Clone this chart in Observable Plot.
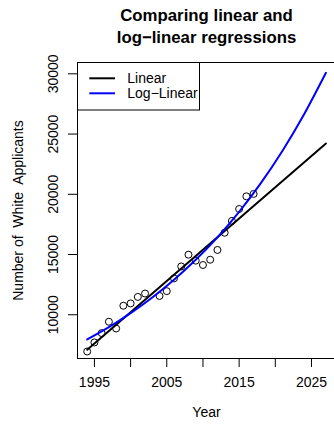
<!DOCTYPE html>
<html><head><meta charset="utf-8">
<script src="https://cdn.jsdelivr.net/npm/d3@7"></script>
<script src="https://cdn.jsdelivr.net/npm/@observablehq/plot@0.6"></script>
<style>
html,body{margin:0;padding:0;background:#fff;overflow:hidden;}
#chart{width:334px;height:428px;overflow:hidden;position:relative;}
#chart svg{max-width:none;display:block;}
</style></head><body><div id="chart"></div>
<script>
// Observed data
const years = [1994,1995,1996,1997,1998,1999,2000,2001,2002,2004,2005,2006,2007,2008,2009,2010,2011,2012,2013,2014,2015,2016,2017];
const applicants = [6950,7700,8480,9420,8860,10750,10940,11480,11760,11560,11960,13020,14010,14990,14490,14130,14570,15380,16810,17790,18780,19830,20030];
// Fitted lines
const linearYears = [1994, 2027];
const linearFit = [7100, 24220];
const logYears = [1994,1997,2000,2003,2006,2009,2012,2015,2018,2021,2024,2027];
const logFit = [7950,8970,10130,11430,12900,14560,16430,18540,20930,23620,26660,30085];
// Axes
const xTicks = [1995,2000,2005,2010,2015,2020,2025];
const xLabels = [1995,2005,2015,2025];
const yTicks = [10000,15000,20000,25000,30000];
const titleText = "Comparing linear and\nlog\u2212linear regressions";
const xTitle = "Year";
const yTitle = "Number of  White  Applicants";
const legendLabels = ["Linear", "Log\u2212Linear"];
const legendColors = ["black", "blue"];

const points = years.map((y, i) => ({year: y, value: applicants[i]}));
const linData = linearYears.map((y, i) => ({year: y, value: linearFit[i]}));
const logData = logYears.map((y, i) => ({year: y, value: logFit[i]}));

const font = "'Liberation Sans', Arial, Helvetica, sans-serif";

const chart = Plot.plot({
  width: 336, height: 428,
  marginLeft: 77, marginRight: 1, marginTop: 62, marginBottom: 70,
  style: {fontFamily: font, fontSize: "14px", color: "black", background: "white"},
  x: {domain: [1992.66, 2028.32], label: null},
  y: {domain: [6369, 30940], label: null},
  marks: [
    Plot.dot(points, {x: "year", y: "value", r: 3.5, stroke: "black", fill: "none", strokeWidth: 1}),
    Plot.line(linData, {x: "year", y: "value", stroke: "black", strokeWidth: 2}),
    Plot.line(logData, {x: "year", y: "value", stroke: "blue", strokeWidth: 2, curve: "natural"}),
    Plot.frame({stroke: "black", strokeWidth: 1}),
    Plot.axisX({ticks: xTicks, tickSize: 9, tickFormat: () => "", stroke: "black"}),
    Plot.axisX({ticks: xLabels, tickSize: 0, tickPadding: 19, fontSize: 14, tickFormat: d => String(d), fill: "black"}),
    Plot.axisY({ticks: yTicks, tickSize: 9, tickFormat: () => "", stroke: "black"}),
    Plot.text(yTicks, {y: d => d, text: d => String(d), frameAnchor: "left", dx: -19.7, rotate: -90, textAnchor: "middle", lineAnchor: "bottom", fontSize: 14, fill: "black"}),
    Plot.text([yTitle], {frameAnchor: "left", dx: -54.5, rotate: -90, textAnchor: "middle", lineAnchor: "bottom", fontSize: 14, fill: "black"}),
    Plot.text([xTitle], {frameAnchor: "bottom", dy: 58, lineAnchor: "bottom", fontSize: 14, fill: "black"}),
    Plot.text([titleText], {frameAnchor: "top", dy: -19.5, lineAnchor: "bottom", lineHeight: 1.31, fontSize: 16.8, fontWeight: "bold", fill: "black"})
  ]
});
chart.querySelectorAll("text").forEach(t => t.setAttribute("xml:space", "preserve"));
chart.querySelectorAll("text").forEach(t => t.style.whiteSpace = "pre");

// Legend (top-left, inside the plot box)
const svg = d3.select(chart);
const lg = svg.append("g").attr("font-family", font).attr("font-size", 14).attr("text-anchor", "start");
lg.append("rect").attr("x", 77.5).attr("y", 62.5).attr("width", 122).attr("height", 47.5)
  .attr("fill", "white").attr("stroke", "black").attr("stroke-width", 1);
legendLabels.forEach((lab, i) => {
  const cy = 78.3 + i * 15;
  lg.append("line").attr("x1", 89.3).attr("x2", 115).attr("y1", cy).attr("y2", cy)
    .attr("stroke", legendColors[i]).attr("stroke-width", 2);
  lg.append("text").attr("x", 127.3).attr("y", cy + 5).attr("fill", "black")
    .attr("text-anchor", "start").text(lab);
});

document.getElementById("chart").appendChild(chart);
</script></body></html>
